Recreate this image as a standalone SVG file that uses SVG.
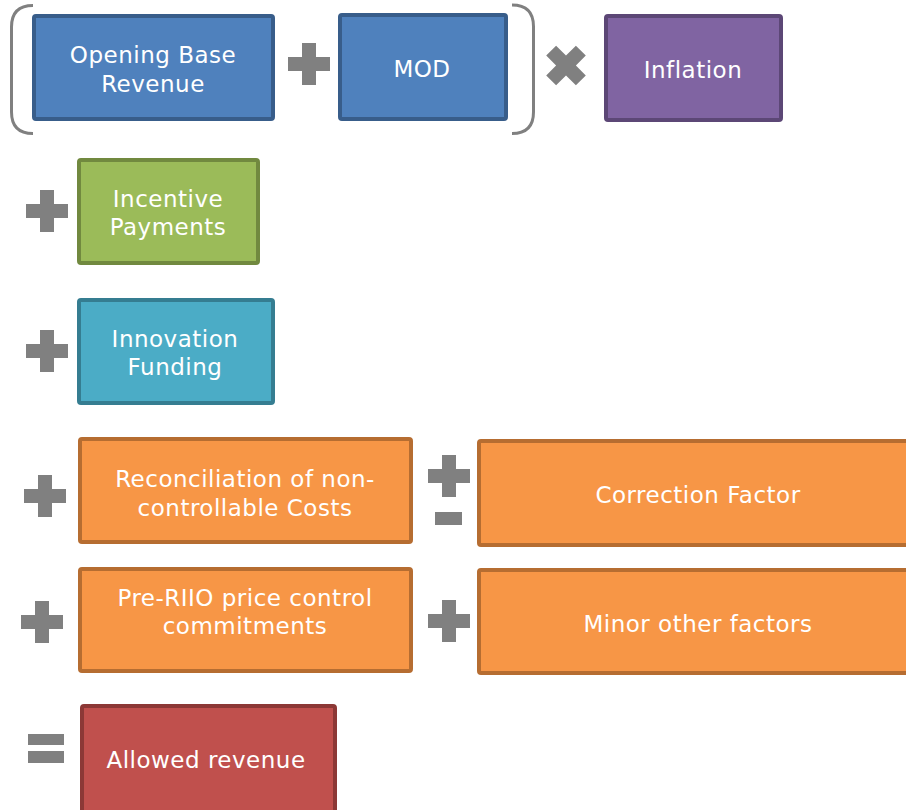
<svg xmlns="http://www.w3.org/2000/svg" width="906" height="810" viewBox="0 0 906 810">
<style>
.t{font-family:"DejaVu Sans",Verdana,sans-serif;font-size:23px;fill:#fff;text-anchor:middle;letter-spacing:0.5px}
.op{fill:#808080}
.br{fill:none;stroke:#808080;stroke-width:3}
.blue{fill:#4F81BD;stroke:#385D8A;stroke-width:4}
.purple{fill:#8064A2;stroke:#5C4776;stroke-width:4}
.green{fill:#9BBB59;stroke:#71893F;stroke-width:4}
.teal{fill:#4BACC6;stroke:#357D91;stroke-width:4}
.orange{fill:#F79646;stroke:#B66D31;stroke-width:4}
.red{fill:#C0504D;stroke:#8C3836;stroke-width:4}
</style>
<defs>
<path id="plus" d="M-7,-21H7V-7H21V7H7V21H-7V7H-21V-7H-7Z"/>
</defs>
<rect width="906" height="810" fill="#fff"/>
<g id="operators">
<path class="br" d="M33,5.5 Q11.5,5.5 11.5,27 L11.5,112 Q11.5,133.5 33,133.5"/>
<path class="br" d="M512,5 Q533.5,5 533.5,26.5 L533.5,112 Q533.5,133.5 512,133.5"/>
<use href="#plus" class="op" x="309" y="64"/>
<use href="#plus" class="op" transform="translate(566,65.5) rotate(45)"/>
<use href="#plus" class="op" x="47" y="211"/>
<use href="#plus" class="op" x="47" y="351"/>
<use href="#plus" class="op" x="45" y="496"/>
<use href="#plus" class="op" x="449" y="476"/>
<rect class="op" x="435" y="512" width="27" height="13"/>
<use href="#plus" class="op" x="42" y="622"/>
<use href="#plus" class="op" x="449" y="621"/>
<rect class="op" x="28" y="734" width="36" height="11"/>
<rect class="op" x="28" y="751" width="36" height="12"/>
</g>
<g id="opening-base-revenue">
<rect class="blue" x="34" y="16" width="239" height="103" rx="2"/>
<text class="t" x="153" y="63">Opening Base</text>
<text class="t" x="153" y="92">Revenue</text>
</g>
<g id="mod">
<rect class="blue" x="340" y="15" width="166" height="104" rx="2"/>
<text class="t" x="422" y="77">MOD</text>
</g>
<g id="inflation">
<rect class="purple" x="606" y="16" width="175" height="104" rx="2"/>
<text class="t" x="693" y="78">Inflation</text>
</g>
<g id="incentive-payments">
<rect class="green" x="79" y="160" width="179" height="103" rx="2"/>
<text class="t" x="168" y="207">Incentive</text>
<text class="t" x="168" y="235">Payments</text>
</g>
<g id="innovation-funding">
<rect class="teal" x="79" y="300" width="194" height="103" rx="2"/>
<text class="t" x="175" y="347">Innovation</text>
<text class="t" x="175" y="375">Funding</text>
</g>
<g id="reconciliation">
<rect class="orange" x="80" y="439" width="331" height="103" rx="2"/>
<text class="t" x="245" y="487">Reconciliation of non-</text>
<text class="t" x="245" y="516">controllable Costs</text>
</g>
<g id="correction-factor">
<rect class="orange" x="479" y="441" width="440" height="104" rx="2"/>
<text class="t" x="698" y="503">Correction Factor</text>
</g>
<g id="pre-riio">
<rect class="orange" x="80" y="569" width="331" height="102" rx="2"/>
<text class="t" x="245" y="606">Pre-RIIO price control</text>
<text class="t" x="245" y="634">commitments</text>
</g>
<g id="minor-other-factors">
<rect class="orange" x="479" y="570" width="440" height="103" rx="2"/>
<text class="t" x="698" y="632">Minor other factors</text>
</g>
<g id="allowed-revenue">
<rect class="red" x="82" y="706" width="253" height="110" rx="2"/>
<text class="t" x="206" y="768">Allowed revenue</text>
</g>
<g id="connectors"></g>
</svg>
